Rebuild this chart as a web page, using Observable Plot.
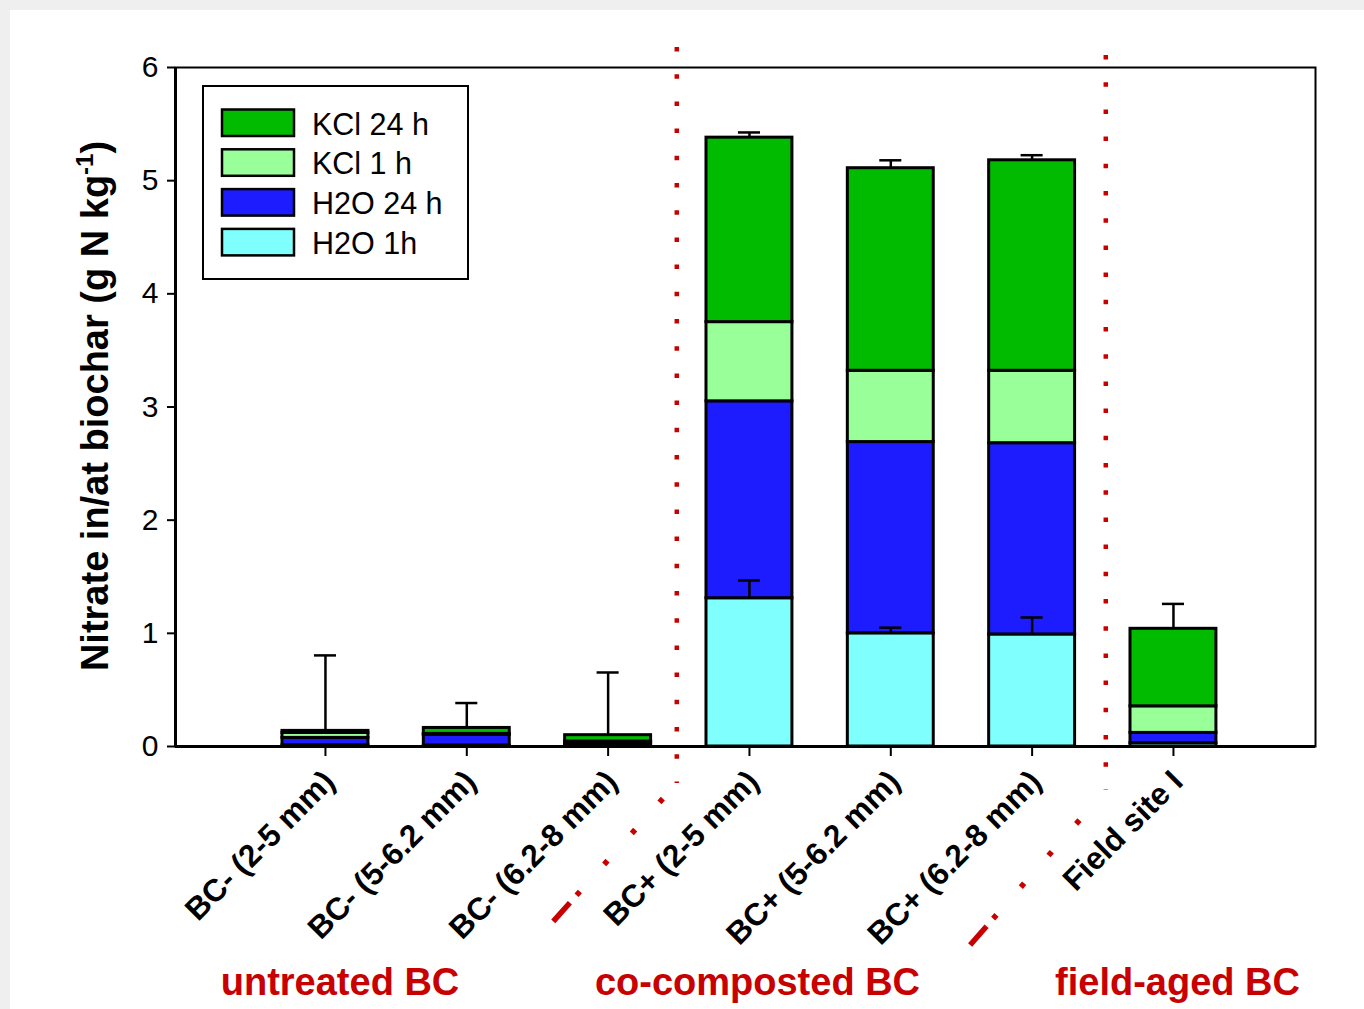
<!DOCTYPE html>
<html><head><meta charset="utf-8">
<script src="https://cdn.jsdelivr.net/npm/d3@7"></script>
<script src="https://cdn.jsdelivr.net/npm/@observablehq/plot@0.6"></script>
<style>
html,body{margin:0;padding:0;background:#efefef;}
#wrap{position:relative;width:1364px;height:1009px;overflow:hidden;}
#panel{position:absolute;left:10px;top:10px;right:0;bottom:0;background:#fff;}
#chart{position:absolute;left:0;top:0;}
</style></head>
<body>
<div id="wrap"><div id="panel"></div><div id="chart"></div></div>
<script>
// ---- data ----
const categories = ["BC- (2-5 mm)", "BC- (5-6.2 mm)", "BC- (6.2-8 mm)", "BC+ (2-5 mm)", "BC+ (5-6.2 mm)", "BC+ (6.2-8 mm)", "Field site I"];
const series = ["H2O 1h", "H2O 24h", "KCl 1h", "KCl 24h"];
const h2o1h  = [0.010, 0.009, 0.013, 1.31, 1.00, 0.99, 0.03];
const h2o24h = [0.066, 0.093, 0.022, 1.74, 1.69, 1.69, 0.09];
const kcl1h  = [0.044, 0.009, 0.009, 0.70, 0.63, 0.64, 0.235];
const kcl24h = [0.018, 0.053, 0.056, 1.63, 1.79, 1.86, 0.685];
const errTotal = [0.667, 0.22, 0.554, 0.046, 0.07, 0.045, 0.22];
const errH2O1h = [null, null, null, 0.157, 0.05, 0.15, null];
const legendLabels = ["KCl 24 h", "KCl 1 h", "H2O 24 h", "H2O 1h"];
const legendSeries = ["KCl 24h", "KCl 1h", "H2O 24h", "H2O 1h"];
const groupLabels = ["untreated BC", "co-composted BC", "field-aged BC"];
const yTicks = [0, 1, 2, 3, 4, 5, 6];
const colors = ["#80ffff", "#1c1cff", "#99ff99", "#00bb00"];

// ---- build tables ----
const seriesValues = [h2o1h, h2o24h, kcl1h, kcl24h];
const rows = [];
const totals = [];
const lowErr = [];
categories.forEach((c, i) => {
  let base = 0;
  seriesValues.forEach((vals, s) => {
    rows.push({pos: i + 1, cat: c, series: series[s], y1: base, y2: base + vals[i]});
    base += vals[i];
  });
  totals.push({pos: i + 1, top: base, err: base + errTotal[i]});
  if (errH2O1h[i] != null) lowErr.push({pos: i + 1, top: h2o1h[i], err: h2o1h[i] + errH2O1h[i]});
});
const positions = categories.map((c, i) => i + 1);

const xDomain = [-0.061, 8.005];
const half = 0.304, cap = 0.078;
const font = "'Liberation Sans', Arial, Helvetica, sans-serif";

const plot = Plot.plot({
  width: 1364, height: 1009,
  marginLeft: 175, marginRight: 49, marginTop: 67, marginBottom: 263,
  style: {background: "transparent", fontFamily: font, overflow: "visible"},
  x: {type: "linear", domain: xDomain, axis: null},
  y: {domain: [0, 6], axis: null},
  color: {domain: series, range: colors},
  marks: [
    Plot.rectY(rows, {x1: d => d.pos - half, x2: d => d.pos + half, y1: "y1", y2: "y2", fill: "series", stroke: "#000", strokeWidth: 3}),
    Plot.ruleX(totals, {x: "pos", y1: "top", y2: "err", stroke: "#000", strokeWidth: 2.5}),
    Plot.ruleY(totals, {y: "err", x1: d => d.pos - cap, x2: d => d.pos + cap, stroke: "#000", strokeWidth: 2.5}),
    Plot.ruleX(lowErr, {x: "pos", y1: "top", y2: "err", stroke: "#000", strokeWidth: 2.5}),
    Plot.ruleY(lowErr, {y: "err", x1: d => d.pos - cap, x2: d => d.pos + cap, stroke: "#000", strokeWidth: 2.5}),
    Plot.frame({stroke: "#000", strokeWidth: 2}),
    Plot.ruleY([0], {stroke: "#000", strokeWidth: 3}),
    Plot.ruleX([xDomain[0]], {stroke: "#000", strokeWidth: 3}),
    Plot.axisY(yTicks, {tickSize: 8, tickPadding: 9, fontSize: 30, strokeWidth: 2, label: null, tickFormat: d => String(d), fill: "#000"}),
    Plot.axisX(positions, {tickSize: 10, tickFormat: () => "", strokeWidth: 2, label: null}),
    Plot.text(categories, {x: (d, i) => i + 1, frameAnchor: "bottom", text: d => d, rotate: -45, textAnchor: "end", lineAnchor: "middle", dx: 4, dy: 30, fontSize: 31.5, fontWeight: "bold", fill: "#000"})
  ]
});
document.getElementById("chart").appendChild(plot);

// ---- annotations drawn in pixel space ----
const svg = d3.select(plot);
const xs = plot.scale("x");
const red = "#c80000";

// y-axis title
const yt = svg.append("text")
  .attr("transform", "translate(108,406) rotate(-90)")
  .attr("text-anchor", "middle")
  .attr("font-family", font).attr("font-weight", "bold").attr("font-size", 38).attr("fill", "#000");
yt.append("tspan").text("Nitrate in/at biochar (g N kg");
yt.append("tspan").attr("font-size", 24).attr("dy", -15).text("-1");
yt.append("tspan").attr("dy", 15).text(")");

// dividers between groups
const d1 = xs.apply(3.5) - 1.5, d2 = xs.apply(6.5) + 3.5;
svg.append("path").attr("d", `M${d1},47V783`).attr("stroke", red).attr("stroke-width", 4.5).attr("stroke-dasharray", "4.5 22.7").attr("fill", "none");
svg.append("path").attr("d", `M${d1},783L${d1 - 125},923`).attr("stroke", red).attr("stroke-width", 5.5).attr("stroke-dasharray", "0 21 5 36.5 5 36.5 5 36.5 5 10 25 100").attr("fill", "none");
svg.append("path").attr("d", `M${d2},55V790`).attr("stroke", red).attr("stroke-width", 4.5).attr("stroke-dasharray", "4.5 22.7").attr("fill", "none");
svg.append("path").attr("d", `M${d2},790L${d2 - 137.4},947`).attr("stroke", red).attr("stroke-width", 5.5).attr("stroke-dasharray", "0 40 5 37 5 37 5 37 5 10 25 100").attr("fill", "none");

// group labels
const groupX = [340, 757.5, 1177.5];
groupLabels.forEach((g, i) => {
  svg.append("text").attr("x", groupX[i]).attr("y", 995).attr("text-anchor", "middle")
    .attr("font-family", font).attr("font-weight", "bold").attr("font-size", 38).attr("fill", red).text(g);
});

// legend
const lg = svg.append("g");
lg.append("rect").attr("x", 203).attr("y", 86).attr("width", 265).attr("height", 193).attr("fill", "#fff").attr("stroke", "#000").attr("stroke-width", 2);
legendLabels.forEach((lab, i) => {
  const y = 109.5 + i * 39.8;
  lg.append("rect").attr("x", 222).attr("y", y).attr("width", 72).attr("height", 26.5)
    .attr("fill", colors[series.indexOf(legendSeries[i])]).attr("stroke", "#000").attr("stroke-width", 2.5);
  lg.append("text").attr("x", 312).attr("y", y + 25).attr("text-anchor", "start")
    .attr("font-family", font).attr("font-size", 30.5).attr("fill", "#000").text(lab);
});
</script>
</body></html>
